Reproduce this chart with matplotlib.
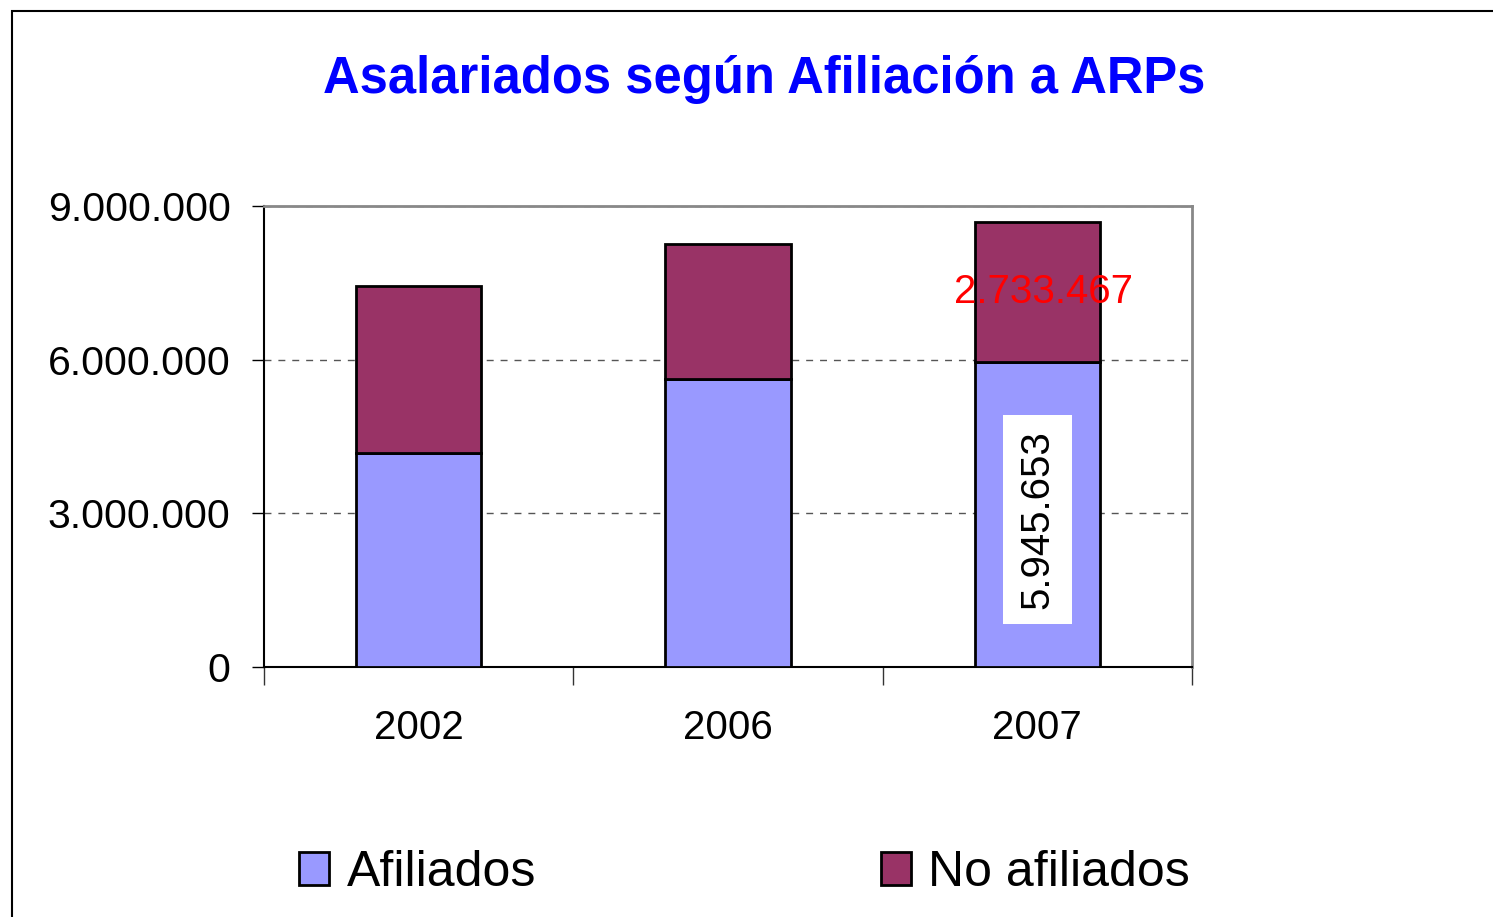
import matplotlib
matplotlib.use("Agg")
import matplotlib.pyplot as plt
from matplotlib.patches import Rectangle
from matplotlib.ticker import FuncFormatter
import numpy as np

plt.rcParams["font.family"] = ["Liberation Sans", "DejaVu Sans"]

years = ["2002", "2006", "2007"]
afiliados = [4178000, 5622000, 5945653]
no_afiliados = [3260000, 2636000, 2733467]
series_names = ["Afiliados", "No afiliados"]
colors = ["#9999FF", "#993366"]

fig = plt.figure(figsize=(14.93, 9.17), dpi=100)
ax = fig.add_axes([264 / 1493, 1 - 667 / 917, (1192 - 264) / 1493, (667 - 206) / 917])

# outer chart border (only top/left visible in the crop)
fig.patches.append(Rectangle((12 / 1493, -0.2), 1.5, 1.2 - 11 / 917,
                             transform=fig.transFigure, fill=False,
                             edgecolor="black", linewidth=1.5))

x = np.arange(len(years))
w = 0.405
b1 = ax.bar(x, afiliados, w, color=colors[0], edgecolor="black", linewidth=2,
            label=series_names[0], zorder=3)
b2 = ax.bar(x, no_afiliados, w, bottom=afiliados, color=colors[1], edgecolor="black",
            linewidth=2, label=series_names[1], zorder=3)

ax.set_xlim(-0.5, len(years) - 0.5)
ax.set_ylim(0, 9000000)
ax.set_yticks([0, 3000000, 6000000, 9000000])
ax.yaxis.set_major_formatter(FuncFormatter(lambda v, p: f"{int(v):,}".replace(",", ".")))
ax.yaxis.grid(True, linestyle=(0, (5, 5)), color="#555555", linewidth=1, zorder=1)

ax.set_xticks(x)
ax.set_xticklabels(years)
ax.set_xticks(np.arange(len(years) + 1) - 0.5, minor=True)
ax.tick_params(axis="x", which="major", length=0, labelsize=29, pad=30)
ax.tick_params(axis="x", which="minor", length=13, width=1, direction="out", color="#333333")
ax.tick_params(axis="y", length=9, width=1, labelsize=29.5, pad=15)

for s in ["top", "right"]:
    ax.spines[s].set_color("#888888")
    ax.spines[s].set_linewidth(2)
for s in ["left", "bottom"]:
    ax.spines[s].set_color("black")
    ax.spines[s].set_linewidth(1.5)

# data labels for 2007
ax.text(x[2] + 0.02, afiliados[2] + no_afiliados[2] * 0.5, f"{no_afiliados[2]:,}".replace(",", "."),
        color="red", fontsize=29, ha="center", va="center", zorder=5)
ax.text(x[2], afiliados[2] * 0.485, f"{afiliados[2]:,}".replace(",", "."),
        color="black", fontsize=29, ha="center", va="center", rotation=90, zorder=5,
        bbox=dict(facecolor="white", edgecolor="none", pad=11))

fig.suptitle("Asalariados según Afiliación a ARPs", x=764 / 1493, y=1 - 80 / 917, va="center",
             color="#0000FF", fontsize=36.5, fontweight="bold")

fig.legend(handles=[b1, b2], labels=series_names, ncol=2, loc="center left",
           bbox_to_anchor=(254 / 1493, 1 - 873 / 917), frameon=False, fontsize=36,
           handlelength=0.6, handleheight=0.65, handletextpad=0.35, columnspacing=6.9)

fig.savefig("out.png", dpi=100)
